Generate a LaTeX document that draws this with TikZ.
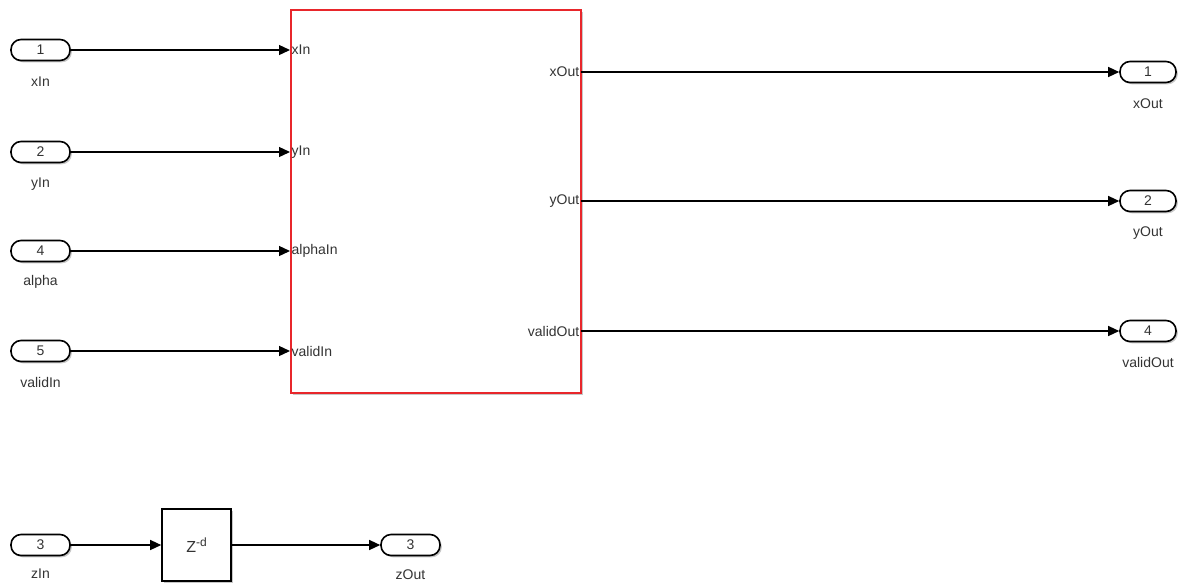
\documentclass[tikz,border=0pt]{standalone}
\usepackage{fontspec}
\setmainfont{Liberation Sans}
\usetikzlibrary{arrows.meta}
\definecolor{txt}{HTML}{333333}
\definecolor{redb}{HTML}{E8262B}
\begin{document}
\begin{tikzpicture}[x=1pt,y=-1pt,
  shad/.style={preaction={draw=none,fill=black!22,transform canvas={shift={(1.8,1.8)}}}},
  port/.style={draw=black,line width=1.6pt,rounded corners=10pt,minimum width=59pt,minimum height=21pt,inner sep=0pt,font=\fontsize{14}{14}\selectfont,text=txt,fill=white,shad},
  lbl/.style={font=\fontsize{14}{14}\selectfont,text=txt,inner sep=0pt},
  plbl/.style={font=\fontsize{14}{14}\selectfont,text=txt,inner sep=1.5pt},
  sig/.style={draw=black,line width=1.3pt,-{Triangle[length=11pt,width=10pt]}}]
\useasboundingbox (0,0) rectangle (1194,582);
% main block
\fill[black!22] (292.5,12) rectangle (583,395);
\node[fill=white,minimum width=290pt,minimum height=383pt,inner sep=0pt,anchor=north west] (blk) at (290.5,10) {};
\draw[redb,line width=2pt] (blk.north west) rectangle (blk.south east);
% block port coordinates
\coordinate (pxIn) at (290,50);
\coordinate (pyIn) at (290,152);
\coordinate (paIn) at (290,251);
\coordinate (pvIn) at (290,351);
\coordinate (pxOut) at (581,72);
\coordinate (pyOut) at (581,201);
\coordinate (pvOut) at (581,331);
\node[plbl,anchor=west] at (pxIn) {xIn};
\node[plbl,anchor=west] at (pyIn) {yIn};
\node[plbl,anchor=west] at (paIn) {alphaIn};
\node[plbl,anchor=west] at (pvIn) {validIn};
\node[plbl,anchor=east] at (pxOut) {xOut};
\node[plbl,anchor=east] at (pyOut) {yOut};
\node[plbl,anchor=east] at (pvOut) {validOut};
% inports
\node[port] (i1) at (40.5,50) {1};
\node[port] (i2) at (40.5,152) {2};
\node[port] (i4) at (40.5,251) {4};
\node[port] (i5) at (40.5,351) {5};
\node[port] (i3) at (40.5,545) {3};
\node[lbl] at (40.5,82) {xIn};
\node[lbl] at (40.5,184) {yIn};
\node[lbl] at (40.5,282) {alpha};
\node[lbl] at (40.5,382) {validIn};
\node[lbl] at (40.5,574) {zIn};
% outports
\node[port,minimum width=56pt] (o1) at (1148,72) {1};
\node[port,minimum width=56pt] (o2) at (1148,201) {2};
\node[port,minimum width=56pt] (o4) at (1148,331) {4};
\node[port] (o3) at (410.5,545) {3};
\node[lbl] at (1148,104) {xOut};
\node[lbl] at (1148,233) {yOut};
\node[lbl] at (1148,362) {validOut};
\node[lbl] at (410.5,575) {zOut};
% delay block
\node[draw=black,line width=1.6pt,fill=white,minimum width=69pt,minimum height=72pt,inner sep=0pt,shad,font=\fontsize{16}{16}\selectfont,text=txt] (dly) at (196.5,545) {Z\raisebox{6pt}{\fontsize{12}{12}\selectfont -d}};
% signals
\draw[sig] (i1.east) -- (pxIn);
\draw[sig] (i2.east) -- (pyIn);
\draw[sig] (i4.east) -- (paIn);
\draw[sig] (i5.east) -- (pvIn);
\draw[sig] (pxOut) -- (o1.west);
\draw[sig] (pyOut) -- (o2.west);
\draw[sig] (pvOut) -- (o4.west);
\draw[sig] (i3.east) -- (dly.west);
\draw[sig] (dly.east) -- (o3.west);
\end{tikzpicture}
\end{document}
